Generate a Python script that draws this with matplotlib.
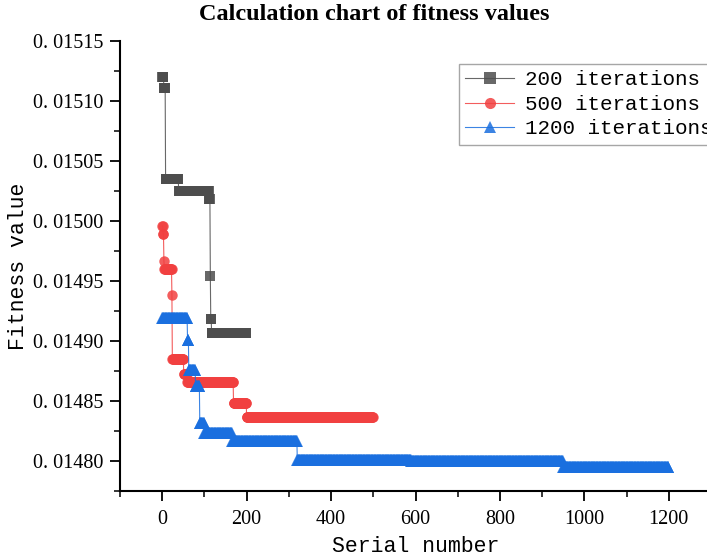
import numpy as np
import matplotlib
matplotlib.use("Agg")
import matplotlib.pyplot as plt
from matplotlib.ticker import MultipleLocator, FuncFormatter

# step values, with how many iterations each one lasts
VALUES_200 = [0.015120, 0.015111, 0.015035, 0.015025, 0.015018, 0.014954, 0.014918, 0.014907]
LENGTHS_200 = [4, 4, 31, 72, 3, 1, 2, 83]

VALUES_500 = [0.014996, 0.014989, 0.014967, 0.014960, 0.014938, 0.014885,
              0.0148725, 0.014866, 0.014848, 0.014837]
LENGTHS_500 = [2, 2, 1, 18, 1, 27, 8, 110, 31, 300]

VALUES_1200 = [0.014919, 0.014901, 0.014876, 0.0148625, 0.0148317, 0.0148233,
               0.0148167, 0.014801, 0.014800, 0.014795]
LENGTHS_1200 = [60, 3, 16, 10, 11, 66, 154, 270, 360, 250]

LABELS = ["200 iterations", "500 iterations", "1200 iterations"]
COLORS = ["#4D4D4D", "#F14040", "#1A6FDF"]
MARKERS = ["s", "o", "^"]
SIZES = [7.5, 7.5, 9]

MONO = "Liberation Mono"


def expand(values, lengths):
    y = np.repeat(values, lengths)
    return np.arange(len(y)), y


def main():
    fig = plt.figure(figsize=(7.07, 5.59), dpi=100)
    ax = fig.add_axes([120 / 707, 68 / 559, (711 - 120) / 707, 450 / 559])

    series = [(VALUES_200, LENGTHS_200), (VALUES_500, LENGTHS_500), (VALUES_1200, LENGTHS_1200)]
    for (vals, lens), lab, col, mk, ms in zip(series, LABELS, COLORS, MARKERS, SIZES):
        x, y = expand(vals, lens)
        ax.plot(x, y, color=col, lw=0.8, alpha=0.85, marker=mk, ms=ms,
                mec=col, mfc=col, mew=0, label=lab)

    ax.set_xlim(-100, 1300)
    ax.set_ylim(0.014775, 0.01515)
    ax.xaxis.set_major_locator(MultipleLocator(200))
    ax.xaxis.set_minor_locator(MultipleLocator(100))
    ax.yaxis.set_major_locator(MultipleLocator(0.00005))
    ax.yaxis.set_minor_locator(MultipleLocator(0.000025))
    ax.yaxis.set_major_formatter(FuncFormatter(lambda v, p: f"{v:.5f}".replace(".", ". ")))

    for s in ["top", "right"]:
        ax.spines[s].set_visible(False)
    for s in ["left", "bottom"]:
        ax.spines[s].set_linewidth(1.5)
    ax.tick_params(which="major", direction="out", length=7, width=1.3)
    ax.tick_params(which="minor", direction="out", length=4, width=1.1)
    ax.tick_params(axis="x", which="major", pad=7)
    ax.tick_params(axis="y", which="major", pad=5)
    for t in ax.get_xticklabels() + ax.get_yticklabels():
        t.set_family("Liberation Serif")
        t.set_fontsize(14.5)

    ax.set_xlabel("Serial number", family=MONO, fontsize=15.5, labelpad=5)
    ax.set_ylabel("Fitness value", family=MONO, fontsize=15.5, labelpad=3)

    fig.text(374 / 707, 1 - 15 / 559, "Calculation chart of fitness values",
             ha="center", va="center", family="Liberation Serif",
             fontweight="bold", fontsize=17.5)

    leg = ax.legend(loc="upper left", bbox_to_anchor=(459 / 707, 1 - 64 / 559),
                    bbox_transform=fig.transFigure, prop={"family": MONO, "size": 15},
                    frameon=True, fancybox=False, edgecolor="#909090",
                    handlelength=2.35, handletextpad=0.5, labelspacing=0.27,
                    borderpad=0.3, borderaxespad=0)
    leg.get_frame().set_linewidth(1.0)
    for h in leg.legend_handles:
        h.set_markersize(8)

    fig.savefig("out.png", dpi=100)


if __name__ == "__main__":
    main()
